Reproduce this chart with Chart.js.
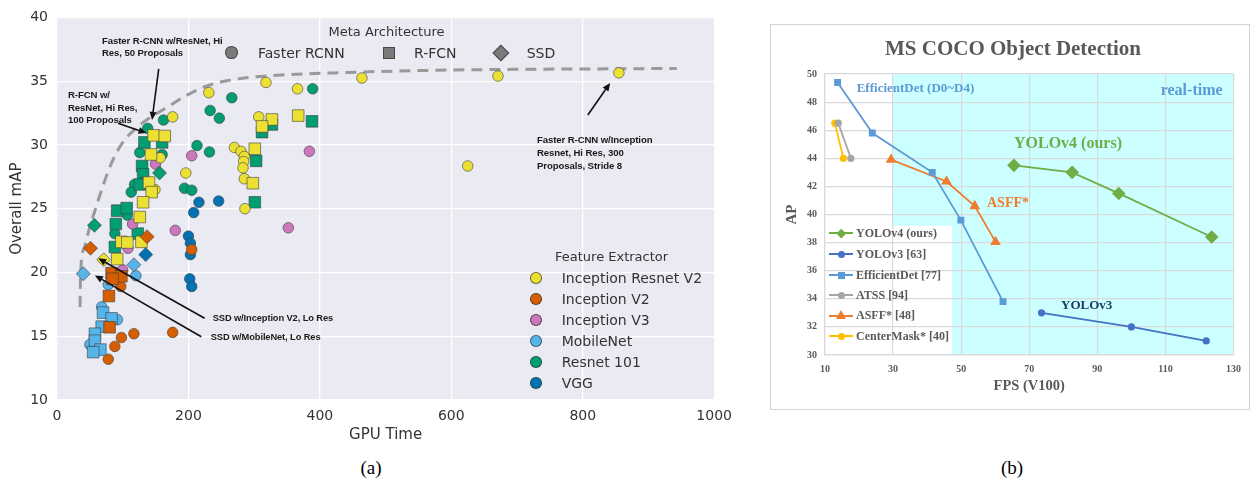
<!DOCTYPE html>
<html>
<head>
<meta charset="utf-8">
<script src="https://cdn.jsdelivr.net/npm/chart.js@4.4.1/dist/chart.umd.min.js"></script>
<style>
  html, body { margin: 0; padding: 0; background: #fff; }
  #wrap { position: relative; width: 1250px; height: 486px; overflow: hidden; background: #fff; }
  canvas { position: absolute; }
  .t { position: absolute; white-space: nowrap; }
  .mk { position: absolute; box-sizing: border-box; }
</style>
</head>
<body>
<div id="wrap">
  <canvas id="left" width="740" height="450" style="left:0;top:0;width:740px;height:450px"></canvas>
  <div style="position:absolute;left:770px;top:24px;width:478px;height:384px;border:1.5px solid #d4d4d4;"></div>
  <canvas id="right" width="478" height="388" style="left:771px;top:21px;width:478px;height:388px"></canvas>
</div>
<script>
// ---------------- Left chart data (GPU Time vs Overall mAP) ----------------
const gpuTicks = [0, 200, 400, 600, 800, 1000];
const mapTicks = [10, 15, 20, 25, 30, 35, 40];
const featureExtractors = ['Inception Resnet V2', 'Inception V2', 'Inception V3', 'MobileNet', 'Resnet 101', 'VGG'];
const metaArchitectures = ['Faster RCNN', 'R-FCN', 'SSD'];

// Faster RCNN (circles)
const frcnnIRV2 = [[318,34.9],[366,34.4],[464,35.25],[231,34.1],[176,32.2],[307,32.2],[270,29.8],[280,29.5],[285,29.1],[284,28.7],[283,28.2],[285,27.35],[286,25.0],[196,27.8],[157,29.0],[149,26.5],[671,35.4],[855,35.65],[625,28.35]];
const frcnnIV2 = [[205,21.8],[97,18.9],[117,15.2],[98,14.9],[88,14.2],[78,13.2],[176,15.3]];
const frcnnIV3 = [[205,29.15],[384,29.5],[180,23.3],[352,23.5],[115,23.8],[108,21.9],[100,20.2],[150,28.5]];
const frcnnMN = [[120,19.75],[78,19.05],[68,17.3],[92,16.3],[50,14.35]];
const frcnnR101 = [[389,34.4],[266,33.7],[233,32.7],[247,32.1],[213,29.95],[232,29.45],[194,26.6],[205,26.45],[162,31.95],[138,31.3],[126,29.4],[160,29.25],[118,26.9],[113,26.3],[107,24.5],[88,23.05]];
const frcnnVGG = [[216,25.5],[246,25.6],[208,24.7],[200,22.85],[203,22.3],[203,21.4],[202,19.5],[205,18.9]];
// R-FCN (squares)
const rfcnIRV2 = [[327,32.0],[312,31.45],[367,32.3],[301,29.7],[298,27.0],[147,30.75],[164,30.7],[143,29.25],[140,27.05],[144,26.3],[131,25.5],[126,24.35],[98,22.4],[107,22.35],[128.5,22.4],[91.6,21.05]];
const rfcnIV2 = [[83,19.95],[98,19.7],[84.5,19.5],[79,18.15],[80,15.7]];
const rfcnMN = [[70,16.85],[83,16.4],[68,15.75],[57.7,15.2],[57.7,14.65],[66,13.95],[55,13.75]];
const rfcnR101 = [[327,31.6],[312,31.0],[388,31.85],[303,28.75],[301,25.5],[160,30.2],[133,30.2],[129.5,28.35],[131,27.7],[135,27.0],[126,26.9],[91.5,24.85],[106,25.05],[89.5,23.8],[123,23.05],[88,22.0]];
// SSD (diamonds)
const ssdIRV2 = [[71,21.0]];
const ssdIV2 = [[51,21.9],[137,22.8]];
const ssdMN = [[40,19.9],[117,20.6]];
const ssdR101 = [[57,23.7],[156,27.8]];
const ssdVGG = [[135,21.4]];
// Pareto frontier (dashed)
const frontier = [[35,17.3],[36,20],[42,22],[50,23.6],[58,24.9],[70,26.8],[84,28.7],[100,30.2],[120,31.3],[140,32.1],[166,32.9],[194,33.8],[227,34.6],[278,35.2],[348,35.5],[420,35.65],[570,35.85],[943,36]];
// Annotation arrows (data coords: from -> to)
const arrows = [
  [[154.8,35.97],[144.6,31.96]],
  [[93,31.7],[136.1,30.93]],
  [[807.7,32.35],[841.7,34.86]],
  [[224.6,16.41],[62.7,21.11]],
  [[219.6,14.96],[57.7,19.77]]
];

// ---------------- Right chart data (FPS vs AP) ----------------
const fpsTicks = [10, 30, 50, 70, 90, 110, 130];
const apTicks = [30, 32, 34, 36, 38, 40, 42, 44, 46, 48, 50];
const yolov4Fps = [65.5, 82.6, 96.3, 123.6];
const yolov4AP = [43.5, 43.0, 41.5, 38.4];
const yolov3Fps = [73.6, 100, 122];
const yolov3AP = [33.0, 32.0, 31.0];
const effdetFps = [13.7, 23.9, 41.5, 49.9, 62.3];
const effdetAP = [49.4, 45.8, 43.0, 39.6, 33.8];
const atssFps = [13.9, 17.6];
const atssAP = [46.5, 44.0];
const asffFps = [29.4, 45.7, 54.0, 60.1];
const asffAP = [43.9, 42.35, 40.6, 38.05];
const centermaskFps = [12.9, 15.4];
const centermaskAP = [46.5, 44.0];
const realtimeFrom = 30;
const legendRightFps = 47.3;
const legendTopAP = 39.2;

// ---------------- Styles ----------------
const feColors = {
  'Inception Resnet V2': '#ECE133',
  'Inception V2': '#D55E00',
  'Inception V3': '#CC78BC',
  'MobileNet': '#56B4E9',
  'Resnet 101': '#029E73',
  'VGG': '#0173B2'
};
const edge = 'rgba(60,60,60,0.75)';
const toXY = arr => arr.map(p => ({x: p[0], y: p[1]}));
const zip = (xs, ys) => xs.map((v, i) => ({x: v, y: ys[i]}));

function sc(label, data, fe, style, r) {
  return { type: 'scatter', label, data: toXY(data), pointStyle: style, pointRadius: r,
    backgroundColor: feColors[fe], borderColor: edge, borderWidth: 0.8, pointHoverRadius: r };
}

const leftDatasets = [
  sc('SSD IRV2', ssdIRV2, 'Inception Resnet V2', 'rectRot', 7),
  sc('SSD IV2', ssdIV2, 'Inception V2', 'rectRot', 7),
  sc('SSD MN', ssdMN, 'MobileNet', 'rectRot', 7),
  sc('SSD R101', ssdR101, 'Resnet 101', 'rectRot', 7),
  sc('SSD VGG', ssdVGG, 'VGG', 'rectRot', 7),
  sc('RFCN IRV2', rfcnIRV2, 'Inception Resnet V2', 'rect', 8.2),
  sc('RFCN IV2', rfcnIV2, 'Inception V2', 'rect', 8.2),
  sc('RFCN MN', rfcnMN, 'MobileNet', 'rect', 8.2),
  sc('FRCNN IRV2', frcnnIRV2, 'Inception Resnet V2', 'circle', 5.3),
  sc('FRCNN IV3', frcnnIV3, 'Inception V3', 'circle', 5.3),
  sc('RFCN R101', rfcnR101, 'Resnet 101', 'rect', 8.2),
  sc('FRCNN IV2', frcnnIV2, 'Inception V2', 'circle', 5.3),
  sc('FRCNN MN', frcnnMN, 'MobileNet', 'circle', 5.3),
  sc('FRCNN R101', frcnnR101, 'Resnet 101', 'circle', 5.3),
  sc('FRCNN VGG', frcnnVGG, 'VGG', 'circle', 5.3),
  { type: 'line', label: 'frontier', data: toXY(frontier), borderColor: '#9a9a9a', borderWidth: 3,
    borderDash: [11, 7], pointRadius: 0, fill: false, cubicInterpolationMode: 'monotone' }
];

const bgPlugin = {
  id: 'bg',
  beforeDraw(chart) {
    const {ctx, chartArea: a} = chart;
    ctx.save();
    ctx.fillStyle = '#EAEAF2';
    ctx.fillRect(a.left, a.top, a.right - a.left, a.bottom - a.top);
    ctx.restore();
  }
};
const arrowPlugin = {
  id: 'arrows',
  afterDatasetsDraw(chart) {
    const {ctx, scales: {x, y}} = chart;
    ctx.save();
    ctx.strokeStyle = '#111';
    ctx.fillStyle = '#111';
    ctx.lineWidth = 1.6;
    arrows.forEach(([f, t]) => {
      const x1 = x.getPixelForValue(f[0]), y1 = y.getPixelForValue(f[1]);
      const x2 = x.getPixelForValue(t[0]), y2 = y.getPixelForValue(t[1]);
      const ang = Math.atan2(y2 - y1, x2 - x1);
      const hl = 8, hw = 3.5;
      const bx = x2 - hl * Math.cos(ang), by = y2 - hl * Math.sin(ang);
      ctx.beginPath(); ctx.moveTo(x1, y1); ctx.lineTo(bx, by); ctx.stroke();
      ctx.beginPath();
      ctx.moveTo(x2, y2);
      ctx.lineTo(bx + hw * Math.sin(ang), by - hw * Math.cos(ang));
      ctx.lineTo(bx - hw * Math.sin(ang), by + hw * Math.cos(ang));
      ctx.closePath(); ctx.fill();
    });
    ctx.restore();
  }
};

new Chart(document.getElementById('left'), {
  type: 'scatter',
  data: { datasets: leftDatasets },
  options: {
    responsive: false, animation: false, events: [],
    layout: { padding: { top: 13, right: 24, left: 0, bottom: 0 } },
    plugins: { legend: { display: false }, tooltip: { enabled: false } },
    scales: {
      x: {
        type: 'linear', min: gpuTicks[0], max: gpuTicks[gpuTicks.length - 1],
        afterBuildTicks: s => { s.ticks = gpuTicks.map(v => ({value: v})); },
        ticks: { font: { family: 'DejaVu Sans', size: 14 }, color: '#333', padding: 8, callback: v => String(v) },
        grid: { color: '#ffffff', lineWidth: 1.3, drawTicks: false },
        border: { display: false },
        title: { display: true, text: 'GPU Time', font: { family: 'DejaVu Sans', size: 15 }, color: '#333', padding: { top: 0, bottom: 6 } },
        afterFit: s => { s.height = 50; }
      },
      y: {
        type: 'linear', min: mapTicks[0], max: mapTicks[mapTicks.length - 1],
        afterBuildTicks: s => { s.ticks = mapTicks.map(v => ({value: v})); },
        ticks: { font: { family: 'DejaVu Sans', size: 14 }, color: '#333', padding: 9, callback: v => String(v) },
        grid: { color: '#ffffff', lineWidth: 1.3, drawTicks: false },
        border: { display: false },
        title: { display: true, text: 'Overall mAP', font: { family: 'DejaVu Sans', size: 15 }, color: '#333', padding: { top: 8, bottom: 0 } },
        afterFit: s => { s.width = 57; }
      }
    }
  },
  plugins: [bgPlugin, arrowPlugin]
});

// ---------------- Right chart ----------------
function ln(label, xs, ys, color, style, r) {
  return { label, data: zip(xs, ys), showLine: true, borderColor: color, backgroundColor: color,
    borderWidth: 1.8, pointStyle: style, pointRadius: r, pointBorderWidth: 0, fill: false, tension: 0 };
}
const rightDatasets = [
  ln('YOLOv4 (ours)', yolov4Fps, yolov4AP, '#70AD47', 'rectRot', 6.8),
  ln('YOLOv3 [63]', yolov3Fps, yolov3AP, '#4472C4', 'circle', 3.6),
  ln('EfficientDet [77]', effdetFps, effdetAP, '#5B9BD5', 'rect', 4.9),
  ln('ATSS [94]', atssFps, atssAP, '#A5A5A5', 'circle', 3.6),
  ln('ASFF* [48]', asffFps, asffAP, '#ED7D31', 'triangle', 6.2),
  ln('CenterMask* [40]', centermaskFps, centermaskAP, '#FFC000', 'circle', 3.6)
];
const realtimePlugin = {
  id: 'realtime',
  beforeDraw(chart) {
    const {ctx, scales: {x, y}} = chart;
    ctx.save();
    const top = y.getPixelForValue(y.max), bot = y.getPixelForValue(y.min);
    const l = x.getPixelForValue(realtimeFrom), r = x.getPixelForValue(x.max);
    ctx.fillStyle = '#CCFFFF';
    ctx.fillRect(l, top, r - l, bot - top);
    const lx = x.getPixelForValue(x.min), rx = x.getPixelForValue(legendRightFps), ty = y.getPixelForValue(legendTopAP);
    ctx.fillStyle = '#ffffff';
    ctx.fillRect(lx, ty, rx - lx, bot - ty);
    ctx.restore();
  }
};
const serif = 'Liberation Serif, Times New Roman, serif';
new Chart(document.getElementById('right'), {
  type: 'scatter',
  data: { datasets: rightDatasets },
  options: {
    responsive: false, animation: false, events: [],
    layout: { padding: { top: 53, right: 15, left: 0, bottom: 0 } },
    plugins: { legend: { display: false }, tooltip: { enabled: false } },
    scales: {
      x: {
        type: 'linear', min: fpsTicks[0], max: fpsTicks[fpsTicks.length - 1],
        afterBuildTicks: s => { s.ticks = fpsTicks.map(v => ({value: v})); },
        ticks: { font: { family: serif, size: 10, weight: 'bold' }, color: '#595959', padding: 8 },
        grid: { color: '#D9D9D9', lineWidth: 1.2, drawTicks: false },
        border: { display: true, color: '#D9D9D9', width: 1.2 },
        title: { display: true, text: 'FPS (V100)', font: { family: serif, size: 14.5, weight: 'bold' }, color: '#595959', padding: { top: 0, bottom: 14 } },
        afterFit: s => { s.height = 54; }
      },
      y: {
        type: 'linear', min: apTicks[0], max: apTicks[apTicks.length - 1],
        afterBuildTicks: s => { s.ticks = apTicks.map(v => ({value: v})); },
        ticks: { font: { family: serif, size: 10, weight: 'bold' }, color: '#595959', padding: 8 },
        grid: { color: '#D9D9D9', lineWidth: 1.2, drawTicks: false },
        border: { display: true, color: '#D9D9D9', width: 1.2 },
        title: { display: true, text: 'AP', font: { family: serif, size: 15, weight: 'bold' }, color: '#595959', padding: { top: 12, bottom: 0 } },
        afterFit: s => { s.width = 54; }
      }
    }
  },
  plugins: [realtimePlugin]
});

// ---------------- HTML text, legends and annotations ----------------
const wrap = document.getElementById('wrap');
function text(txt, left, cy, size, o = {}) {
  const d = document.createElement('div');
  d.className = 't';
  const lh = o.lh || Math.round(size * 1.25);
  d.innerHTML = txt;
  d.style.left = left + 'px';
  d.style.top = (cy - lh / 2) + 'px';
  d.style.lineHeight = lh + 'px';
  d.style.fontSize = size + 'px';
  d.style.fontFamily = o.family || 'DejaVu Sans';
  d.style.fontWeight = o.weight || 'normal';
  d.style.color = o.color || '#262626';
  if (o.center) d.style.transform = 'translateX(-50%)';
  if (o.ls) d.style.letterSpacing = o.ls;
  wrap.appendChild(d);
  return d;
}
function marker(shape, cx, cy, size, color, border) {
  const d = document.createElement('div');
  d.className = 'mk';
  if (shape === 'triangle') {
    d.style.width = '0'; d.style.height = '0';
    d.style.left = (cx - size / 2) + 'px';
    d.style.top = (cy - size * 0.55) + 'px';
    d.style.borderLeft = (size / 2) + 'px solid transparent';
    d.style.borderRight = (size / 2) + 'px solid transparent';
    d.style.borderBottom = (size * 0.9) + 'px solid ' + color;
  } else {
    d.style.width = size + 'px'; d.style.height = size + 'px';
    d.style.left = (cx - size / 2) + 'px';
    d.style.top = (cy - size / 2) + 'px';
    d.style.background = color;
    if (border) d.style.border = border;
    if (shape === 'circle') d.style.borderRadius = '50%';
    if (shape === 'diamond') d.style.transform = 'rotate(45deg)';
  }
  wrap.appendChild(d);
}
function hline(x1, x2, cy, color, w) {
  const d = document.createElement('div');
  d.className = 'mk';
  d.style.left = x1 + 'px'; d.style.width = (x2 - x1) + 'px';
  d.style.top = (cy - w / 2) + 'px'; d.style.height = w + 'px';
  d.style.background = color;
  wrap.appendChild(d);
}

// Left: meta-architecture legend
text('Meta Architecture', 386.5, 31.7, 13, { center: true, color: '#333' });
const mEdge = '1px solid rgba(50,50,50,0.7)';
marker('circle', 231.7, 52.7, 12.7, '#7a7a7a', mEdge);
text(metaArchitectures[0], 258, 52.7, 14, { color: '#333' });
marker('square', 389, 52.7, 11.7, '#7a7a7a', mEdge);
text(metaArchitectures[1], 414, 52.7, 14, { color: '#333' });
marker('diamond', 500.7, 52.7, 11.8, '#7a7a7a', mEdge);
text(metaArchitectures[2], 526.7, 52.7, 14, { color: '#333' });

// Left: feature-extractor legend
text('Feature Extractor', 555, 257.3, 13, { color: '#333' });
const feY = [278.3, 299.3, 320, 340.7, 361.7, 382.7];
featureExtractors.forEach((fe, i) => {
  marker('circle', 536, feY[i], 11.7, feColors[fe], mEdge);
  text(fe, 561.7, feY[i], 14, { color: '#333' });
});

// Left: annotations
const ann = { family: 'Liberation Sans, Arial, sans-serif', weight: 'bold', color: '#1a1a1a', ls: '-0.1px' };
text('Faster R-CNN w/ResNet, Hi<br>Res, 50 Proposals', 102, 41.1, 9.6, Object.assign({ lh: 12.3 }, ann));
text('R-FCN w/<br>ResNet, Hi Res,<br>100 Proposals', 68, 95.6, 9.6, Object.assign({ lh: 12.5 }, ann));
text('Faster R-CNN w/Inception<br>Resnet, Hi Res, 300<br>Proposals, Stride 8', 537, 140.5, 9.6, Object.assign({ lh: 12.8 }, ann));
text('SSD w/Inception V2, Lo Res', 212.7, 318.3, 9.3, Object.assign({ lh: 12 }, ann));
text('SSD w/MobileNet, Lo Res', 210.7, 336.7, 9.3, Object.assign({ lh: 12 }, ann));

// Right: title and in-plot labels
text('MS COCO Object Detection', 1013, 48, 21, { family: serif, weight: 'bold', color: '#595959', center: true });
text('EfficientDet (D0~D4)', 856.7, 88.3, 13, { family: serif, weight: 'bold', color: '#5B9BD5' });
text('real-time', 1160.7, 90, 16, { family: serif, weight: 'bold', color: '#5B9BD5' });
text('YOLOv4 (ours)', 1014, 142.7, 16, { family: serif, weight: 'bold', color: '#70AD47' });
text('ASFF*', 987, 202.7, 14, { family: serif, weight: 'bold', color: '#ED7D31' });
text('YOLOv3', 1061, 305, 13, { family: serif, weight: 'bold', color: '#203864' });

// Right: legend
const legY = [233.3, 254, 275, 295, 315.7, 336];
const legShapes = ['diamond', 'circle', 'square', 'circle', 'triangle', 'circle'];
const legSizes = [6.5, 7, 7, 7, 10, 7];
rightDatasets.forEach((ds, i) => {
  hline(829, 853, legY[i], ds.borderColor, 2);
  marker(legShapes[i], 841, legY[i], legSizes[i], ds.borderColor);
  text(ds.label, 856, legY[i], 12, { family: serif, weight: 'bold', color: '#595959' });
});

// Captions
text('(a)', 371, 468, 19, { family: serif, color: '#000', center: true });
text('(b)', 1012, 468, 19, { family: serif, color: '#000', center: true });
</script>
</body>
</html>
